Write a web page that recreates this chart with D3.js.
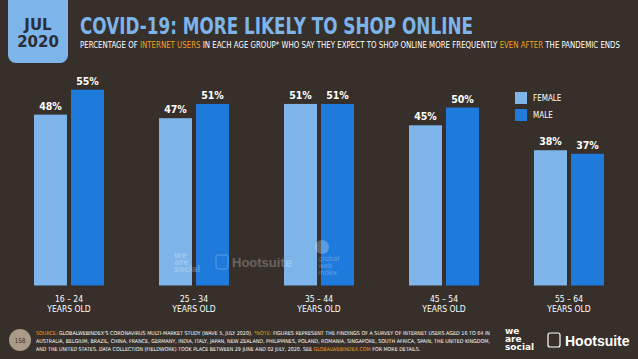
<!DOCTYPE html>
<html>
<head>
<meta charset="utf-8">
<script src="https://cdn.jsdelivr.net/npm/d3@7"></script>
<style>
  html, body { margin: 0; padding: 0; background: #372f2a; }
  svg { display: block; }
</style>
</head>
<body>
<svg id="chart"></svg>
<script>
const ageGroups = ["16 – 24", "25 – 34", "35 – 44", "45 – 54", "55 – 64"];
const seriesNames = ["FEMALE", "MALE"];
const female = [48, 47, 51, 45, 38];
const male = [55, 51, 51, 50, 37];
const seriesColors = ["#7db4ea", "#1f7bdb"];

const sourceLines = [
  [["SOURCE: ", "#f0a020"], ["GLOBALWEBINDEX'S CORONAVIRUS MULTI-MARKET STUDY (WAVE 5, JULY 2020). ", "#fff"], ["*NOTE: ", "#f0a020"], ["FIGURES REPRESENT THE FINDINGS OF A SURVEY OF INTERNET USERS AGED 16 TO 64 IN", "#fff"]],
  [["AUSTRALIA, BELGIUM, BRAZIL, CHINA, FRANCE, GERMANY, INDIA, ITALY, JAPAN, NEW ZEALAND, PHILIPPINES, POLAND, ROMANIA, SINGAPORE, SOUTH AFRICA, SPAIN, THE UNITED KINGDOM,", "#fff"]],
  [["AND THE UNITED STATES. DATA COLLECTION (FIELDWORK) TOOK PLACE BETWEEN 29 JUNE AND 02 JULY, 2020. SEE ", "#fff"], ["GLOBALWEBINDEX.COM", "#f0a020"], [" FOR MORE DETAILS.", "#fff"]]
];

let width = 638;
let height = 359;
let svg = d3.select("#chart")
            .attr("width", width)
            .attr("height", height);

svg.append("rect")
    .attr("width", width)
    .attr("height", height)
    .attr("fill", "#372f2a");

// date tab
svg.append("rect")
    .attr("x", 8).attr("y", -12)
    .attr("width", 60).attr("height", 75)
    .attr("rx", 8)
    .attr("fill", "#7db4ea");
["JUL", "2020"].forEach((t, i) => {
    svg.append("text")
        .attr("x", 38).attr("y", 30 + i * 17)
        .attr("text-anchor", "middle")
        .attr("font-family", "DejaVu Sans")
        .attr("font-weight", "bold")
        .attr("font-size", 15)
        .attr("fill", "#2b2e35")
        .text(t);
});

// title
svg.append("text")
    .attr("x", 80).attr("y", 34)
    .attr("font-family", "DejaVu Sans")
    .attr("font-weight", "bold")
    .attr("font-size", 23)
    .attr("fill", "#7db4ea")
    .attr("textLength", 393)
    .attr("lengthAdjust", "spacingAndGlyphs")
    .text("COVID-19: MORE LIKELY TO SHOP ONLINE");

let sub = svg.append("text")
    .attr("x", 80).attr("y", 48)
    .attr("font-family", "DejaVu Sans Condensed, Liberation Sans Narrow")
    .attr("font-size", 8)
    .attr("fill", "#fff")
    .attr("textLength", 540)
    .attr("lengthAdjust", "spacingAndGlyphs");
[["PERCENTAGE OF ", "#fff"], ["INTERNET USERS", "#f0a020"], [" IN EACH AGE GROUP* WHO SAY THEY EXPECT TO SHOP ONLINE MORE FREQUENTLY ", "#fff"], ["EVEN AFTER", "#f0a020"], [" THE PANDEMIC ENDS", "#fff"]]
    .forEach(p => sub.append("tspan").attr("fill", p[1]).text(p[0]));

// scales
let x0 = d3.scaleBand()
    .domain(ageGroups)
    .range([6.5, 631.5]);

let x1 = d3.scaleBand()
    .domain(seriesNames)
    .range([x0.bandwidth() / 2 - 35, x0.bandwidth() / 2 + 35])
    .paddingInner(4 / 37);

let y = d3.scaleLinear()
    .domain([0, 55])
    .range([285.5, 89.7]);

let color = d3.scaleOrdinal().domain(seriesNames).range(seriesColors);

let rows = ageGroups.map((g, i) => ({
    group: g,
    values: [{ name: "FEMALE", value: female[i] }, { name: "MALE", value: male[i] }]
}));

let groups = svg.append("g")
    .selectAll("g")
    .data(rows)
    .enter()
    .append("g")
    .attr("transform", d => `translate(${x0(d.group)},0)`);

groups.selectAll("rect")
    .data(d => d.values)
    .enter()
    .append("rect")
    .attr("x", d => x1(d.name))
    .attr("y", d => y(d.value))
    .attr("width", x1.bandwidth())
    .attr("height", d => y(0) - y(d.value))
    .attr("fill", d => color(d.name));

groups.selectAll("text.val")
    .data(d => d.values)
    .enter()
    .append("text")
    .attr("class", "val")
    .attr("x", d => x1(d.name) + x1.bandwidth() / 2)
    .attr("y", d => y(d.value) - 5)
    .attr("text-anchor", "middle")
    .attr("font-family", "Liberation Sans Narrow, DejaVu Sans Condensed")
    .attr("font-weight", "bold")
    .attr("font-size", 10.5)
    .attr("fill", "#fff")
    .text(d => d.value + "%");

// x labels
let xl = groups.append("text")
    .attr("text-anchor", "middle")
    .attr("font-family", "DejaVu Sans Condensed, Liberation Sans Narrow")
    .attr("font-size", 8.5)
    .attr("fill", "#fff");
xl.append("tspan").attr("x", x0.bandwidth() / 2).attr("y", 302).text(d => d.group);
xl.append("tspan").attr("x", x0.bandwidth() / 2).attr("y", 312).text("YEARS OLD");

// watermarks (on top of the bars)
let wm = svg.append("g").attr("opacity", 0.25).attr("fill", "#ffffff")
    .attr("font-family", "DejaVu Sans").attr("font-weight", "bold");
["we", "are", "social"].forEach((w, i) => {
    wm.append("text").attr("x", 174).attr("y", 258 + i * 7)
      .attr("font-size", 8).text(w);
});
wm.append("rect").attr("x", 216).attr("y", 255).attr("width", 12).attr("height", 14)
    .attr("rx", 2).attr("fill", "none").attr("stroke", "#fff").attr("stroke-width", 1);
wm.append("text").attr("x", 232).attr("y", 267).attr("font-family", "Liberation Sans")
    .attr("font-size", 13).text("Hootsuite");
wm.append("circle").attr("cx", 322).attr("cy", 247).attr("r", 7);
["global", "web", "index"].forEach((w, i) => {
    wm.append("text").attr("x", 318).attr("y", 261 + i * 7)
      .attr("font-size", 7).attr("font-weight", "normal").text(w);
});

// legend
let legend = svg.append("g")
    .selectAll("g")
    .data(seriesNames)
    .enter()
    .append("g")
    .attr("transform", (d, i) => `translate(515,${92 + i * 17})`);
legend.append("rect")
    .attr("width", 12).attr("height", 12)
    .attr("fill", d => color(d));
legend.append("text")
    .attr("x", 18).attr("y", 9)
    .attr("font-family", "DejaVu Sans Condensed, Liberation Sans Narrow")
    .attr("font-size", 8)
    .attr("fill", "#fff")
    .text(d => d);

// footer
svg.append("circle").attr("cx", 20).attr("cy", 340).attr("r", 11).attr("fill", "#a99b87");
svg.append("text").attr("x", 20).attr("y", 342.5).attr("text-anchor", "middle")
    .attr("font-family", "DejaVu Sans Condensed").attr("font-size", 6.5)
    .attr("fill", "#372f2a").text("158");

sourceLines.forEach((line, i) => {
    let t = svg.append("text")
        .attr("x", 36).attr("y", 335 + i * 8)
        .attr("font-family", "DejaVu Sans Condensed, Liberation Sans Narrow")
        .attr("font-size", 5.3)
        .attr("fill", "#fff");
    if (i < 2) t.attr("textLength", 454).attr("lengthAdjust", "spacingAndGlyphs");
    line.forEach(p => t.append("tspan").attr("fill", p[1]).text(p[0]));
});

let logo = svg.append("g").attr("fill", "#fff").attr("font-family", "DejaVu Sans").attr("font-weight", "bold");
["we", "are", "social"].forEach((w, i) => {
    logo.append("text").attr("x", 505).attr("y", 334 + i * 8).attr("font-size", 9).text(w);
});
logo.append("rect").attr("x", 548).attr("y", 333).attr("width", 12).attr("height", 14)
    .attr("rx", 2).attr("fill", "none").attr("stroke", "#fff").attr("stroke-width", 1.2);
logo.append("text").attr("x", 565).attr("y", 346).attr("font-family", "Liberation Sans")
    .attr("font-size", 14).text("Hootsuite");
</script>
</body>
</html>
